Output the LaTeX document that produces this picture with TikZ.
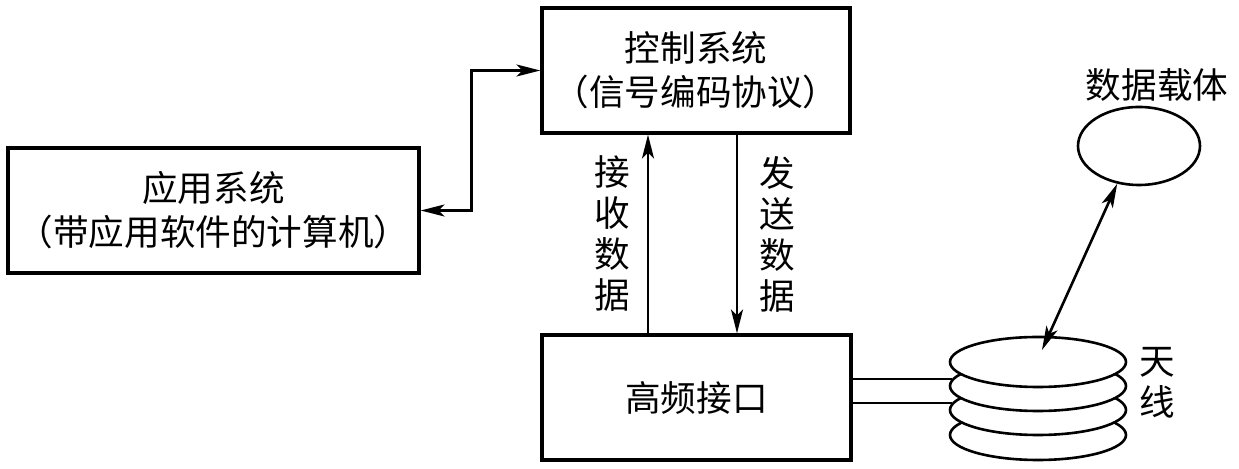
\documentclass[tikz,border=0pt]{standalone}
\usepackage{fontspec}
\setmainfont{Noto Sans CJK SC}
\usetikzlibrary{arrows.meta,calc,shapes.geometric}
\begin{document}
\begin{tikzpicture}[x=0.5pt,y=-0.5pt,
  box/.style={draw,line width=1.6pt,inner sep=0pt,align=center,font=\fontsize{17.8pt}{22pt}\selectfont},
  lbl/.style={align=center,inner sep=0pt,font=\fontsize{17.8pt}{20.5pt}\selectfont},
  con/.style={line width=1.3pt},
  tip/.style={-{Stealth[length=12pt,width=6pt,inset=3pt]}},
  both/.style={{Stealth[length=12pt,width=6pt,inset=3pt]}-{Stealth[length=12pt,width=6pt,inset=3pt]}},
  ell/.style={draw,ellipse,line width=1.3pt,fill=white,inner sep=0pt}]
\useasboundingbox (0,0) rectangle (1239,469);
\node[box,minimum width=205.5pt,minimum height=62.5pt] (app) at (213.5,210.5) {应用系统\\（带应用软件的计算机）};
\node[box,minimum width=154pt,minimum height=62.5pt] (ctrl) at (696,70.5) {控制系统\\（信号编码协议）};
\node[box,minimum width=154.5pt,minimum height=62.5pt] (hf) at (696.5,397.5) {高频接口};
\node[ell,minimum width=61pt,minimum height=39pt] (carrier) at (1139,146) {};
\node[lbl] (carrierlbl) at (1157,85) {数据载体};
\node[lbl] (rx) at (612,234) {接\\收\\数\\据};
\node[lbl] (tx) at (777,234) {发\\送\\数\\据};
\node[lbl] (antlbl) at (1157,383) {天\\线};
% antenna coils drawn bottom-up
\node[ell,minimum width=88pt,minimum height=25pt] (ant4) at (1038,435) {};
\node[ell,minimum width=88pt,minimum height=25pt] (ant3) at (1038,410) {};
\node[ell,minimum width=88pt,minimum height=25pt] (ant2) at (1038,386) {};
\node[ell,minimum width=88pt,minimum height=25pt] (ant1) at (1038,362) {};
\coordinate (w1) at ($(ant2.west)+(3,-7)$);
\coordinate (w2) at ($(ant3.west)+(3,-7)$);
\draw[con] (hf.east |- w1) -- (w1);
\draw[con] (hf.east |- w2) -- (w2);
% connectors
\draw[con,both] (app.east) -- ++(51,0) |- (ctrl.west);
\draw[con,tip] (hf.north -| 648,0) -- (ctrl.south -| 648,0);
\draw[con,tip] (ctrl.south -| 737,0) -- (hf.north -| 737,0);
\coordinate (antend) at ($(ant1.center)+(4,-12)$);
\draw[con,both] (carrier.240) -- (antend);
\end{tikzpicture}
\end{document}
